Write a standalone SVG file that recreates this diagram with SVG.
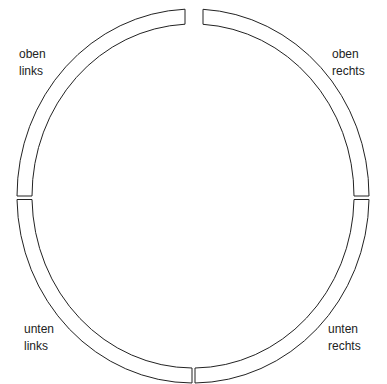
<svg xmlns="http://www.w3.org/2000/svg" width="387" height="384" viewBox="0 0 387 384">
<style>
.seg{fill:#fff;stroke:#222;stroke-width:1}
.lbl{font-family:"Liberation Sans",Arial,sans-serif;font-size:12px;fill:#222}
</style>
<rect width="387" height="384" fill="#fff"/>
<g id="segments">
<g id="oben-links-seg"><path class="seg" d="M17,196 A176,187 0 0 1 185,9.2 L185,24.2 A161,172 0 0 0 32,196 Z"/></g>
<g id="oben-rechts-seg"><path class="seg" d="M203,9.3 A176,187 0 0 1 369,196 L354,196 A161,172 0 0 0 203,24.3 Z"/></g>
<g id="unten-rechts-seg"><path class="seg" d="M369,199.5 A176,187 0 0 1 195,383 L195,368 A161,172 0 0 0 354,199.5 Z"/></g>
<g id="unten-links-seg"><path class="seg" d="M192,383 A176,187 0 0 1 17,199.5 L32,199.5 A161,172 0 0 0 192,368 Z"/></g>
</g>
<g id="labels">
<g id="oben-links"><text class="lbl" x="19" y="58">oben</text><text class="lbl" x="19" y="75">links</text></g>
<g id="oben-rechts"><text class="lbl" x="332" y="58">oben</text><text class="lbl" x="332" y="75">rechts</text></g>
<g id="unten-links"><text class="lbl" x="24" y="333">unten</text><text class="lbl" x="24" y="350">links</text></g>
<g id="unten-rechts"><text class="lbl" x="328" y="333">unten</text><text class="lbl" x="328" y="350">rechts</text></g>
</g>
</svg>
